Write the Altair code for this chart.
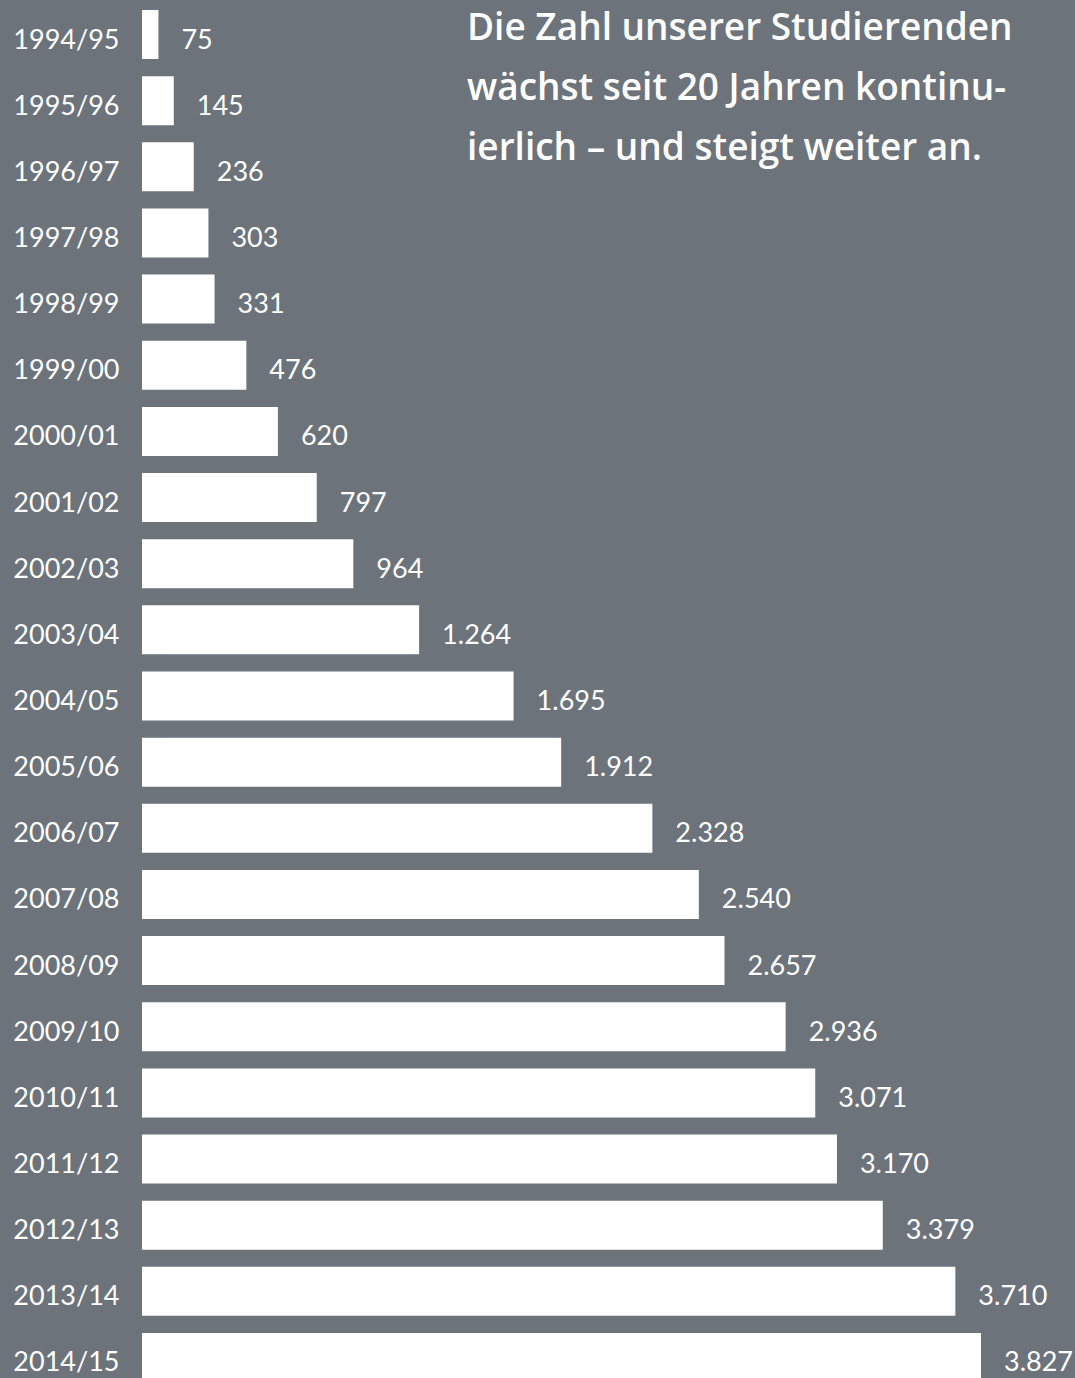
import altair as alt
import pandas as pd

years = ["1994/95", "1995/96", "1996/97", "1997/98", "1998/99", "1999/00", "2000/01",
         "2001/02", "2002/03", "2003/04", "2004/05", "2005/06", "2006/07", "2007/08",
         "2008/09", "2009/10", "2010/11", "2011/12", "2012/13", "2013/14", "2014/15"]
students = [75, 145, 236, 303, 331, 476, 620, 797, 964, 1264, 1695, 1912, 2328, 2540,
            2657, 2936, 3071, 3170, 3379, 3710, 3827]
headline = ["Die Zahl unserer Studierenden",
            "wächst seit 20 Jahren kontinu-",
            "ierlich – und steigt weiter an."]

df = pd.DataFrame({
    "year": years,
    "students": students,
    "label": [f"{v:,}".replace(",", ".") for v in students],
})

BG = "#6c737b"
FONT = "Lato"

y_enc = alt.Y("year:N", sort=years, title=None,
              scale=alt.Scale(paddingInner=0.2592, paddingOuter=0.1512),
              axis=alt.Axis(domain=False, ticks=False, grid=False,
                            labelColor="white", labelFont=FONT, labelFontSize=27,
                            labelPadding=23, labelAlign="right",
                            labelBaseline="alphabetic", labelOffset=14))
x_enc = alt.X("students:Q", title=None, axis=None,
              scale=alt.Scale(domain=[0, 3827], nice=False, zero=True))

base = alt.Chart(df).encode(y=y_enc, x=x_enc)

bars = base.mark_bar(color="white", opacity=1)
labels = base.mark_text(align="left", baseline="alphabetic", dx=23, dy=14,
                        color="white", font=FONT, fontSize=27).encode(text="label:N")

head_df = pd.DataFrame({"t": ["\n".join(headline)]})
head = alt.Chart(head_df).mark_text(
    align="left", baseline="alphabetic", color="white", font="Open Sans",
    fontSize=37, fontWeight=600, lineBreak="\n", lineHeight=60
).encode(
    text="t:N",
    x=alt.value(325),
    y=alt.value(40),
)

chart = alt.layer(bars, labels, head).properties(
    width=839, height=1392,
    autosize=alt.AutoSizeParams(type="none"),
    padding={"left": 142, "top": 0, "right": 94, "bottom": 0},
    background=BG,
).configure_view(stroke=None)

chart.save("out.html", embed_options={"renderer": "svg", "actions": False})
